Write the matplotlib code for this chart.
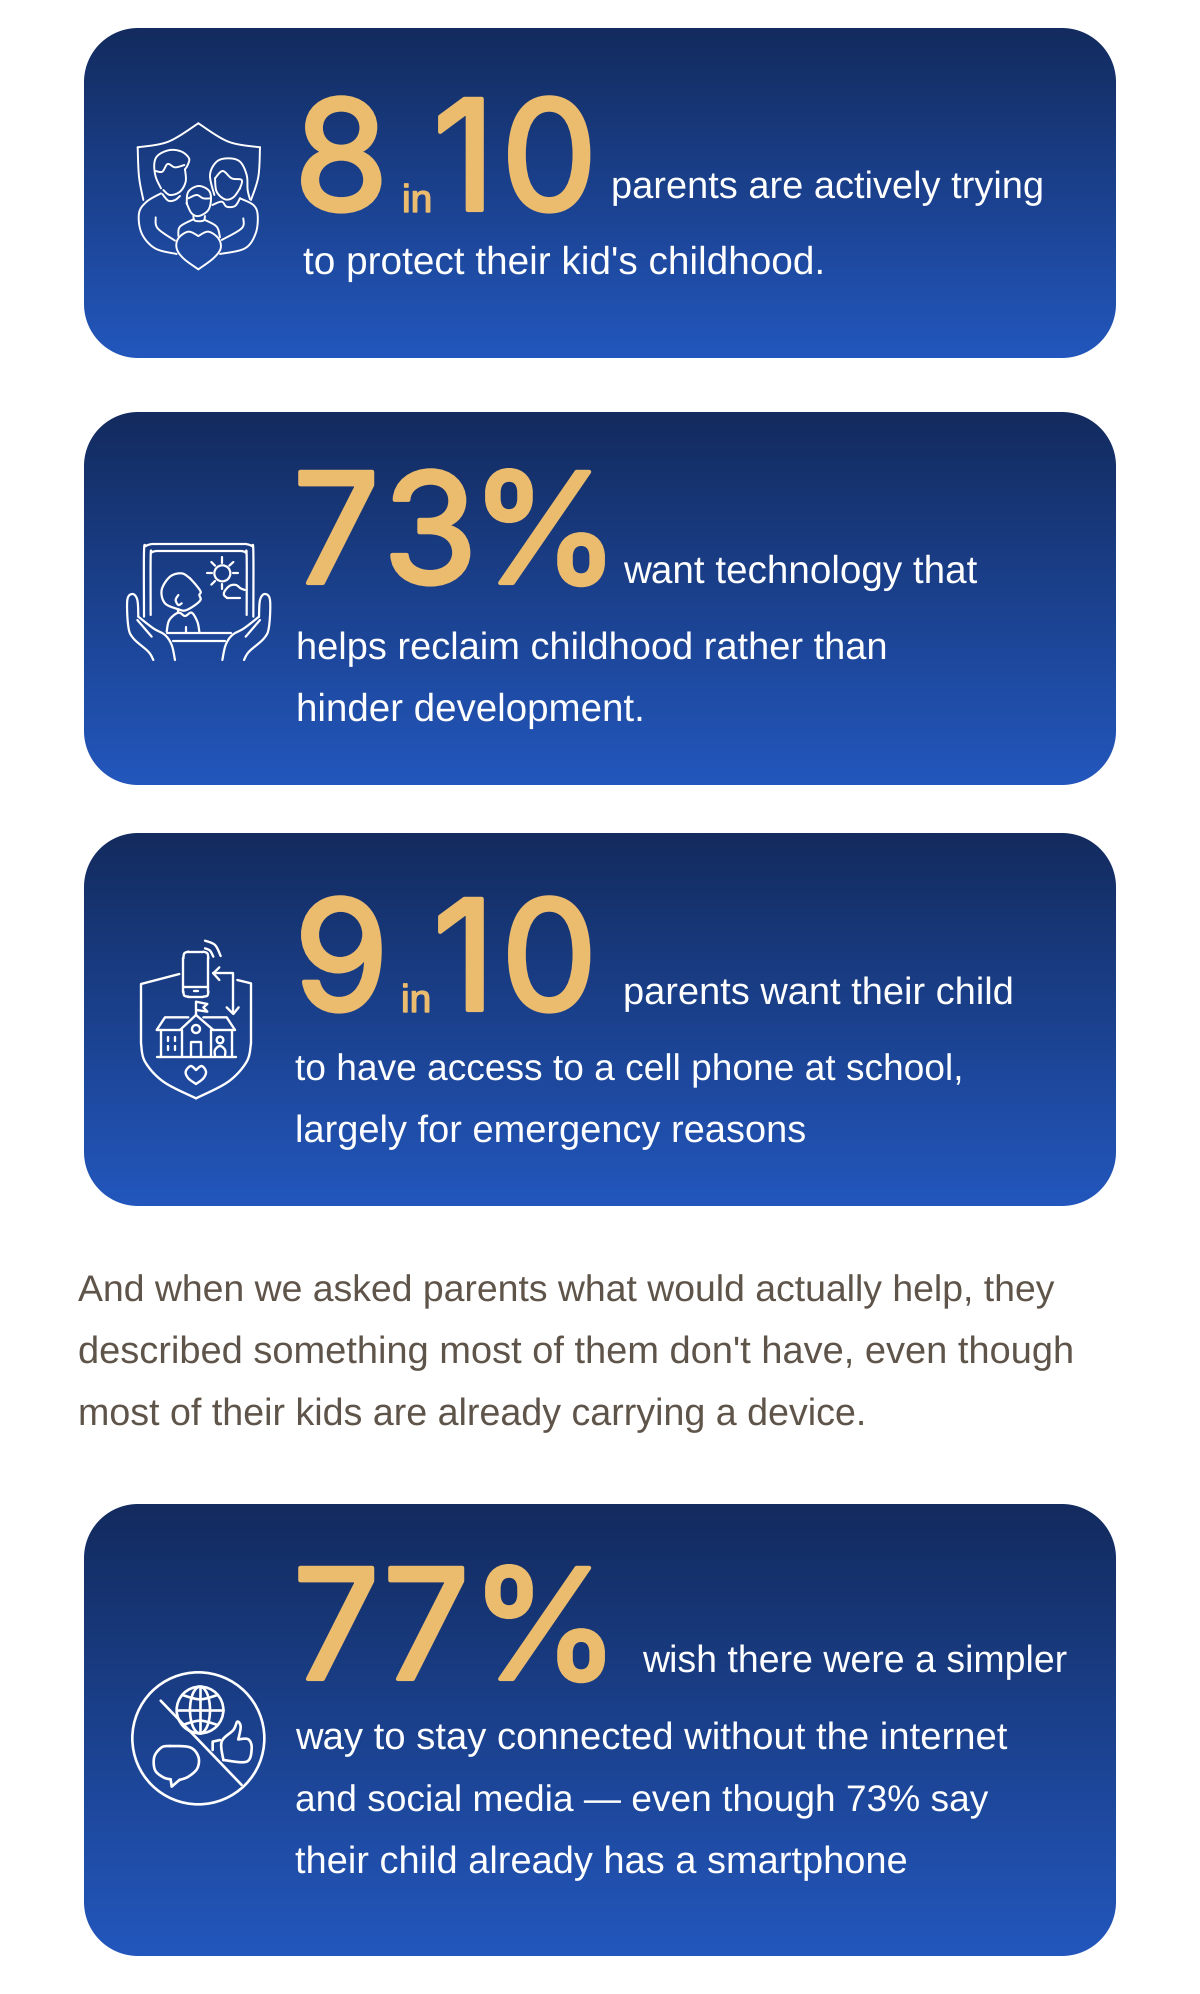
#! /usr/bin/python
import numpy as np
import matplotlib
matplotlib.use('Agg')
import matplotlib.pyplot as plt
from matplotlib.path import Path
from matplotlib.patches import PathPatch, Circle, Ellipse
import matplotlib.patheffects as pe

# text of the cards
stat_first = ['8', '73', '9', '77']
stat_join = ['in', '%', 'in', '%']
stat_second = ['10', '', '10', '']
stat_tail = ['parents are actively trying', 'want technology that',
             'parents want their child', 'wish there were a simpler']
card_lines = [["to protect their kid's childhood."],
              ['helps reclaim childhood rather than', 'hinder development.'],
              ['to have access to a cell phone at school,', 'largely for emergency reasons'],
              ['way to stay connected without the internet',
               'and social media \u2014 even though 73% say',
               'their child already has a smartphone']]
para_lines = ['And when we asked parents what would actually help, they',
              "described something most of them don't have, even though",
              'most of their kids are already carrying a device.']

GOLD = '#ebbb6e'
BROWN = '#5f5449'
FONT = 'Liberation Sans'
BODY_PT = 27.35
BIG_PT = 110
LEFT, RIGHT, RADIUS = 84, 1116, 54

plt.rcParams['text.hinting'] = 'no_hinting'
plt.rcParams['text.hinting_factor'] = 8

fig = plt.figure(figsize=(12, 19.94), dpi=100)
ax = fig.add_axes([0, 0, 1, 1])
ax.set_xlim(0, 1200)
ax.set_ylim(1994, 0)
ax.axis('off')

grad = np.linspace(0, 1, 256).reshape(-1, 1)
cmap = matplotlib.colors.LinearSegmentedColormap.from_list('card', ['#132b5e', '#2357bd'])

def card(top, bottom):
    t = np.linspace(0, np.pi / 2, 30)
    c, s = RADIUS * np.cos(t), RADIUS * np.sin(t)
    xs = np.r_[RIGHT - RADIUS + c, LEFT + RADIUS - s, LEFT + RADIUS - c, RIGHT - RADIUS + s]
    ys = np.r_[bottom - RADIUS + s, bottom - RADIUS + c, top + RADIUS - s, top + RADIUS - c]
    box = PathPatch(Path(np.c_[xs, ys], closed=False), fc='none', ec='none')
    ax.add_patch(box)
    im = ax.imshow(grad, cmap=cmap, extent=(LEFT, RIGHT, bottom, top), aspect='auto', zorder=1)
    im.set_clip_path(box)

def body(x, y, s, color='white', k=1.0):
    # k nudges the size line by line, the font runs a little off the original widths
    ax.text(x, y, s, color=color, fontsize=BODY_PT * k, family=FONT, va='baseline', ha='left', zorder=3)

def big(xs, y, chars, size=BIG_PT):
    # one text per glyph, the numerals are set tighter than the font
    for x, ch in zip(xs, chars):
        t = ax.text(x, y, ch, color=GOLD, fontsize=size, family='Inter', va='baseline', ha='left', zorder=3)
        t.set_path_effects([pe.withStroke(linewidth=3, foreground=GOLD)])

def small_in(x, y, s):
    t = ax.text(x, y, s, color=GOLD, fontsize=28, family=FONT, va='baseline', ha='left', zorder=3)
    t.set_path_effects([pe.withStroke(linewidth=1, foreground=GOLD)])

def smooth(pts):
    # catmull-rom through the points, keeps the icons from looking faceted
    p = np.array(pts, dtype=float)
    p = np.vstack([p[0], p, p[-1]])
    out = []
    t = np.linspace(0, 1, 12)[:, None]
    for i in range(1, len(p) - 2):
        a, b, c, d = p[i - 1], p[i], p[i + 1], p[i + 2]
        out.append(0.5 * (2 * b + (c - a) * t + (2 * a - 5 * b + 4 * c - d) * t ** 2
                          + (3 * b - a - 3 * c + d) * t ** 3))
    return np.vstack(out)

def icon(ox, oy, lw, curves=(), lines=(), circles=()):
    for c in curves:
        q = smooth(c)
        ax.plot(ox + q[:, 0] / 3, oy + q[:, 1] / 3, color='white', lw=lw, zorder=3,
                solid_capstyle='round', solid_joinstyle='round')
    for c in lines:
        q = np.array(c, dtype=float)
        ax.plot(ox + q[:, 0] / 3, oy + q[:, 1] / 3, color='white', lw=lw, zorder=3,
                solid_capstyle='round', solid_joinstyle='round')
    for cx, cy, r in circles:
        ax.add_patch(Circle((ox + cx / 3, oy + cy / 3), r / 3, fc='none', ec='white', lw=lw, zorder=3))

def family_icon():
    curves = [
        [(38, 112), (130, 95), (220, 40)], [(220, 40), (310, 95), (405, 112)],
        [(38, 112), (42, 200), (55, 270)], [(405, 112), (400, 200), (378, 270)],
        # father
        [(108, 235), (92, 200), (88, 160), (100, 135), (135, 120), (170, 125), (192, 145), (188, 165), (180, 178)],
        [(180, 178), (182, 215), (165, 245), (135, 255), (115, 240)],
        [(92, 183), (112, 185), (128, 162), (150, 172), (178, 165)],
        [(108, 250), (65, 275), (42, 310), (50, 370), (90, 415), (155, 432)],
        [(92, 322), (98, 355), (150, 392)],
        [(112, 252), (130, 272), (150, 270), (165, 258)],
        # mother
        [(268, 255), (255, 195), (275, 155), (310, 145), (345, 155), (365, 195), (368, 240), (375, 268)],
        [(270, 205), (293, 183), (320, 205), (350, 210), (345, 235)],
        [(270, 205), (275, 245), (300, 268), (325, 262), (345, 235)],
        [(262, 285), (290, 275), (305, 290), (330, 288), (345, 265)],
        [(345, 265), (385, 285), (398, 315), (392, 370), (360, 415), (285, 432)],
        [(355, 325), (350, 355), (290, 390)],
        # child
        [(185, 280), (190, 245), (220, 228), (250, 240), (258, 265), (250, 300), (222, 318), (200, 310), (185, 280)],
        [(190, 265), (215, 255), (235, 265), (258, 265)],
        [(205, 318), (210, 332), (235, 332), (240, 318)],
        [(160, 378), (165, 350), (205, 328)], [(240, 330), (275, 350), (285, 382)],
        # heart
        [(220, 378), (190, 365), (160, 385), (155, 415), (175, 445), (220, 478)],
        [(220, 378), (250, 365), (280, 385), (287, 415), (265, 445), (220, 478)],
    ]
    icon(125, 110, 1.4, curves=curves)

def tablet_icon():
    ox, oy = 110, 520
    left_hand = [
        [(130, 420), (115, 395), (70, 355), (55, 320), (52, 240), (68, 222), (82, 240), (85, 290)],
        [(85, 290), (130, 325), (165, 345), (185, 375), (195, 420)],
        [(82, 300), (125, 350)],
    ]
    right_hand = [[(532 - x, y) for x, y in c] for c in left_hand]
    curves = left_hand + right_hand + [
        [(102, 290), (102, 95), (108, 78), (125, 72)], [(408, 72), (425, 78), (430, 95), (430, 290)],
        [(122, 285), (122, 108), (126, 97), (138, 93)], [(395, 93), (406, 97), (410, 108), (410, 285)],
        [(240, 175), (215, 160), (180, 170), (155, 210), (165, 250), (205, 268)],
        [(205, 225), (197, 240), (205, 255), (215, 250)],
        [(240, 175), (258, 195), (272, 215), (268, 225), (272, 238), (262, 250), (240, 265), (222, 272), (205, 268)],
        [(205, 268), (205, 278)],
        [(170, 335), (178, 300), (205, 278), (225, 288), (245, 278), (262, 305), (268, 335)],
        [(352, 234), (342, 225), (345, 212), (360, 197), (378, 195), (392, 205), (405, 210)],
    ]
    lines = [
        [(125, 72), (408, 72)], [(138, 93), (395, 93)],
        [(170, 340), (362, 340)], [(188, 362), (345, 362)], [(352, 234), (390, 234)],
        [(228, 322), (228, 335)],
        [(337, 112), (337, 128)], [(337, 192), (337, 207)], [(290, 160), (305, 160)], [(368, 160), (384, 160)],
        [(304, 126), (315, 137)], [(370, 126), (358, 137)], [(304, 194), (315, 183)],
    ]
    icon(ox, oy, 1.6, curves=curves, lines=lines, circles=[(337, 160, 24)])

def school_icon():
    curves = [
        [(255, 32), (285, 45), (302, 78)], [(255, 55), (270, 62), (280, 80)],
        [(63, 340), (75, 395), (130, 455), (228, 505)], [(228, 505), (325, 455), (380, 395), (393, 340)],
        [(190, 85), (193, 70), (205, 65)], [(250, 65), (262, 70), (265, 85)],
        [(190, 185), (193, 197), (205, 200)], [(250, 200), (262, 197), (265, 185)],
        [(285, 378), (285, 360), (300, 348), (315, 360), (315, 378)],
        [(228, 420), (212, 408), (197, 425), (205, 445), (228, 462)],
        [(228, 420), (245, 408), (258, 425), (250, 445), (228, 462)],
    ]
    lines = [
        [(205, 65), (250, 65)], [(205, 200), (250, 200)], [(190, 85), (190, 185)], [(265, 85), (265, 185)],
        [(190, 170), (265, 170)], [(222, 184), (235, 184)],
        [(298, 112), (280, 130), (298, 150)], [(280, 130), (340, 130), (340, 250)], [(320, 232), (340, 252), (356, 232)],
        [(178, 132), (63, 162), (63, 340)], [(352, 150), (393, 160), (393, 340)],
        [(228, 255), (228, 215), (262, 222), (250, 232), (262, 245), (230, 240)],
        [(110, 380), (348, 380)],
        [(110, 300), (135, 262), (205, 262)], [(250, 262), (320, 262), (345, 300)],
        [(110, 300), (180, 300)], [(280, 300), (345, 300)], [(180, 300), (228, 255), (280, 300)],
        [(122, 300), (122, 380)], [(335, 300), (335, 380)], [(185, 300), (185, 380)], [(272, 300), (272, 380)],
        [(213, 380), (213, 335), (243, 335), (243, 380)],
        [(143, 320), (143, 332)], [(165, 320), (165, 332)], [(143, 348), (143, 360)], [(165, 348), (165, 360)],
    ]
    icon(120, 930, 1.7, curves=curves, lines=lines, circles=[(228, 297, 12), (300, 330, 10)])

def no_social_icon():
    ox, oy = 120, 1660
    curves = [
        [(187, 105), (240, 118), (293, 105)], [(187, 195), (240, 182), (293, 195)],
        [(150, 258), (125, 262), (103, 290), (105, 330), (130, 352), (152, 358)],
        [(178, 360), (205, 350), (232, 325), (235, 290), (210, 262), (150, 258)],
        [(310, 300), (305, 245), (340, 210), (352, 185), (362, 200), (355, 238)],
        [(355, 238), (385, 238), (395, 265), (380, 305), (310, 300)],
    ]
    lines = [
        [(122, 122), (365, 375)], [(240, 80), (240, 220)], [(170, 150), (310, 150)],
        [(152, 358), (155, 380), (178, 360)],
        [(300, 240), (278, 245), (278, 270)],
    ]
    icon(ox, oy, 1.9, curves=curves, lines=lines, circles=[(235, 235, 198), (240, 150, 70)])
    ax.add_patch(Ellipse((ox + 240 / 3, oy + 150 / 3), 60 / 3, 140 / 3, fc='none', ec='white', lw=1.9, zorder=3))

# card 1
card(28, 358)
big([294], 210, stat_first[0])
small_in(402, 212, stat_join[0])
big([433, 501], 210, stat_second[0])
body(611, 198, stat_tail[0])
body(303, 274, card_lines[0][0], k=1.022)
family_icon()

# card 2
card(412, 785)
big([293, 383], 583, stat_first[1])
big([470], 583, stat_join[1])
body(623, 583, stat_tail[1], k=1.018)
body(296, 659, card_lines[1][0])
body(296, 721, card_lines[1][1], k=1.015)
tablet_icon()

# card 3
card(833, 1206)
big([294], 1010, stat_first[2])
small_in(401, 1012, stat_join[2])
big([433, 501], 1010, stat_second[2])
body(623, 1004, stat_tail[2])
body(295, 1080, card_lines[2][0], k=0.976)
body(295, 1142, card_lines[2][1])
school_icon()

# paragraph between the cards
body(78, 1301, para_lines[0], BROWN, k=0.986)
body(78, 1363, para_lines[1], BROWN)
body(78, 1425, para_lines[2], BROWN, k=0.992)

# card 4
card(1504, 1956)
big([293, 383], 1679, stat_first[3])
big([470], 1679, stat_join[3])
body(642, 1672, stat_tail[3], k=0.988)
body(295, 1749, card_lines[3][0], k=1.007)
body(295, 1811, card_lines[3][1], k=0.978)
body(295, 1873, card_lines[3][2])
no_social_icon()

fig.savefig('out.png', dpi=100, facecolor='white')
